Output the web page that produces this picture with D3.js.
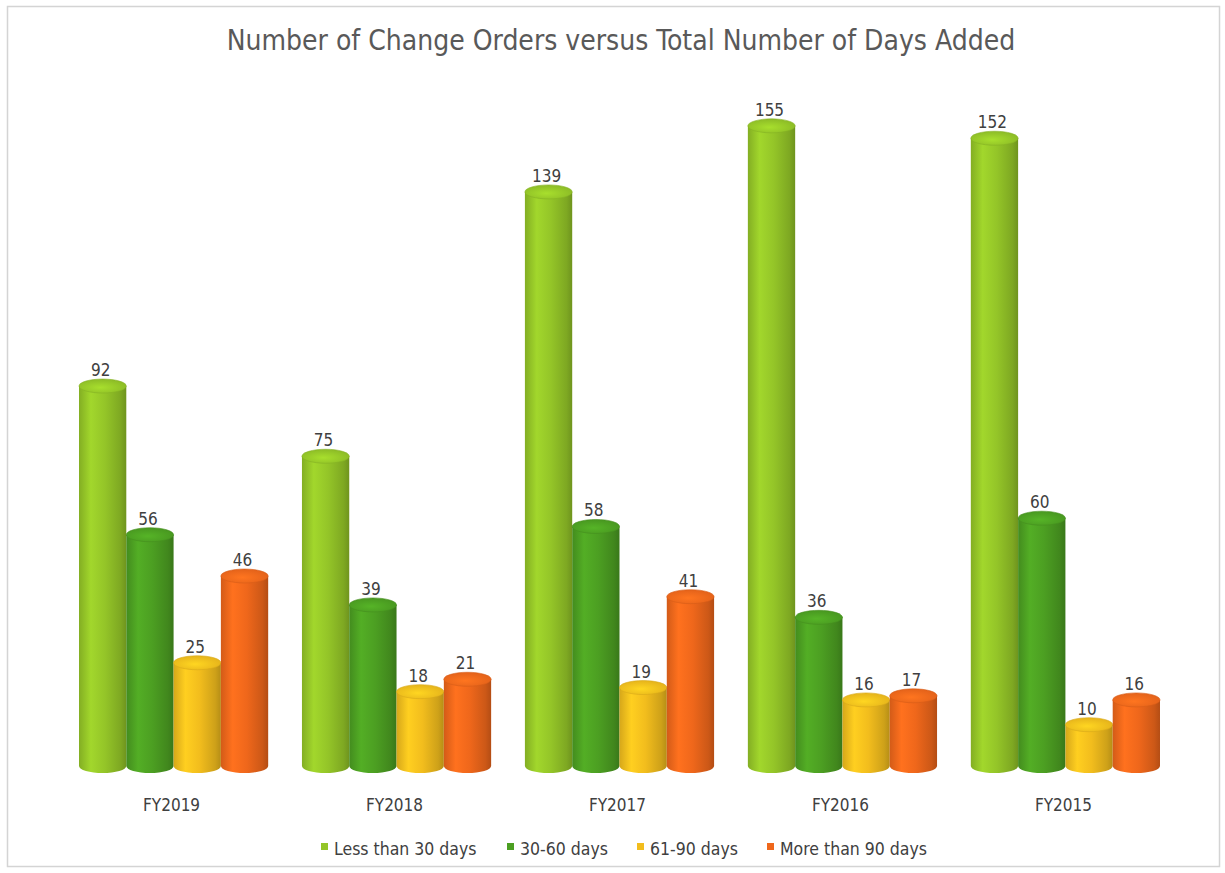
<!DOCTYPE html>
<html>
<head>
<meta charset="utf-8">
<script src="https://cdn.jsdelivr.net/npm/d3@7"></script>
<style>
  body { margin: 0; background: #fff; }
  text { font-family: "DejaVu Sans Condensed", "DejaVu Sans", sans-serif; fill: #404040; }
</style>
</head>
<body>
<div id="chart"></div>
<script>
var years = ["FY2019", "FY2018", "FY2017", "FY2016", "FY2015"];
var seriesNames = ["Less than 30 days", "30-60 days", "61-90 days", "More than 90 days"];
var lessThan30 = [92, 75, 139, 155, 152];
var days30to60 = [56, 39, 58, 36, 60];
var days61to90 = [25, 18, 19, 16, 10];
var moreThan90 = [46, 21, 41, 17, 16];
var colors = ["#94c528", "#4c9f22", "#f2bd1d", "#ef671b"];

var series = [lessThan30, days30to60, days61to90, moreThan90];

var W = 1225, H = 873;
var svg = d3.select("#chart").append("svg")
    .attr("width", W)
    .attr("height", H);

// chart frame
svg.append("rect")
    .attr("x", 7.5).attr("y", 6.5)
    .attr("width", 1212).attr("height", 860)
    .attr("fill", "#fff")
    .attr("stroke", "#d4d4d4")
    .attr("stroke-width", 1.5);

var defs = svg.append("defs");
colors.forEach(function (c, i) {
    var base = d3.color(c);
    var g = defs.append("linearGradient").attr("id", "body" + i)
        .attr("x1", "0%").attr("x2", "100%").attr("y1", "0%").attr("y2", "0%");
    g.append("stop").attr("offset", "0%").attr("stop-color", base.darker(0.35));
    g.append("stop").attr("offset", "25%").attr("stop-color", base.brighter(0.25));
    g.append("stop").attr("offset", "55%").attr("stop-color", base);
    g.append("stop").attr("offset", "88%").attr("stop-color", base.darker(0.45));
    g.append("stop").attr("offset", "100%").attr("stop-color", base.darker(0.8));
    var t = defs.append("radialGradient").attr("id", "top" + i)
        .attr("cx", "45%").attr("cy", "60%").attr("r", "60%");
    t.append("stop").attr("offset", "0%").attr("stop-color", base.brighter(0.35));
    t.append("stop").attr("offset", "100%").attr("stop-color", base.darker(0.15));
});

var x = d3.scaleBand()
    .domain(years)
    .range([79, 1160])
    .paddingInner(0.1515)
    .paddingOuter(0);

var xs = d3.scaleBand()
    .domain(d3.range(seriesNames.length))
    .range([0, x.bandwidth()])
    .padding(0);

var y = d3.scaleLinear()
    .domain([0, 160])
    .range([766, 766 - 160 * 4.13]);

var ry = 7;

years.forEach(function (yr, yi) {
    var g = svg.append("g").attr("transform", "translate(" + x(yr) + ",0)");
    series.forEach(function (vals, si) {
        var v = vals[yi];
        var x0 = xs(si), w = xs.bandwidth(), rx = w / 2;
        var cx = x0 + rx;
        var yt = y(v), yb = y(0);
        // body with rounded bottom
        g.append("path")
            .attr("d", "M" + x0 + "," + yt +
                "L" + x0 + "," + yb +
                "A" + rx + "," + ry + " 0 0 0 " + (x0 + w) + "," + yb +
                "L" + (x0 + w) + "," + yt + "Z")
            .attr("fill", "url(#body" + si + ")");
        // top cap
        g.append("ellipse")
            .attr("cx", cx).attr("cy", yt)
            .attr("rx", rx).attr("ry", ry)
            .attr("fill", "url(#top" + si + ")")
            .attr("stroke", d3.color(colors[si]).darker(0.3))
            .attr("stroke-width", 0.6);
        g.append("text")
            .attr("x", cx - 2)
            .attr("y", yt - ry - 3)
            .attr("text-anchor", "middle")
            .style("font-size", "17px")
            .text(v);
    });
});

// category labels
svg.append("g").selectAll("text")
    .data(years)
    .enter()
    .append("text")
    .attr("x", function (d) { return x(d) + x.bandwidth() / 2 - 2; })
    .attr("y", 811)
    .attr("text-anchor", "middle")
    .style("font-size", "17px")
    .text(function (d) { return d; });

// title
svg.append("text")
    .attr("x", 621)
    .attr("y", 50)
    .attr("text-anchor", "middle")
    .style("font-size", "28px")
    .style("fill", "#595959")
    .text("Number of Change Orders versus Total Number of Days Added");

// legend
var legendX = [321, 507, 637, 767];
var legend = svg.append("g").selectAll("g")
    .data(seriesNames)
    .enter()
    .append("g")
    .attr("transform", function (d, i) { return "translate(" + legendX[i] + ",855)"; });
legend.append("rect")
    .attr("x", 0).attr("y", -12)
    .attr("width", 7).attr("height", 7)
    .attr("fill", function (d, i) { return colors[i]; });
legend.append("text")
    .attr("x", 13)
    .attr("y", 0)
    .style("font-size", "17.5px")
    .text(function (d) { return d; });
</script>
</body>
</html>
